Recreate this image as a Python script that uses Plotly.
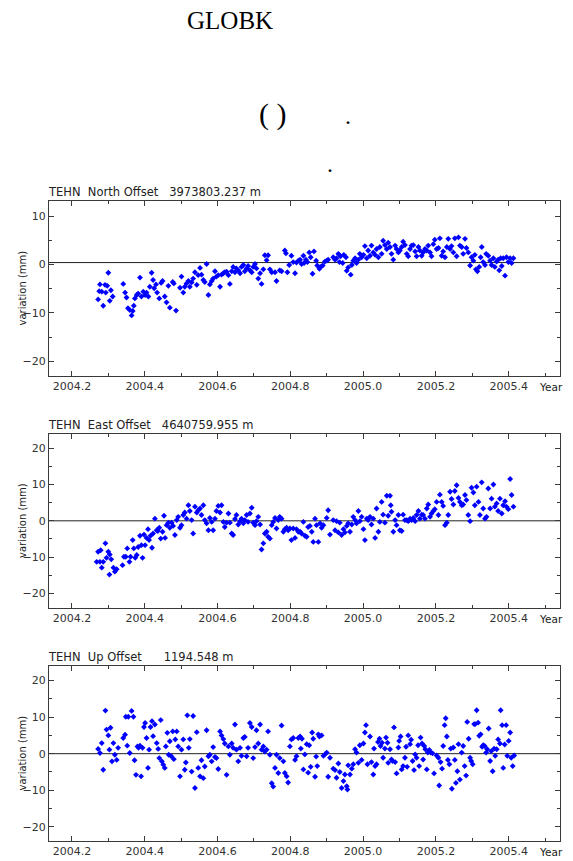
import plotly.graph_objects as go

# ---------------- data (decimal year, variation in mm) ----------------
north_t = [2004.272,2004.277,2004.275,2004.282,2004.286,2004.291,2004.293,2004.297,2004.300,2004.304,2004.307,2004.312,
2004.341,2004.346,2004.350,2004.354,2004.359,2004.364,2004.367,2004.370,2004.373,2004.378,2004.382,2004.387,2004.391,
2004.396,2004.401,2004.405,2004.410,2004.414,2004.419,2004.423,2004.426,2004.431,2004.434,2004.440,2004.445,2004.449,
2004.455,2004.460,2004.465,2004.469,2004.477,2004.480,2004.486,2004.497,2004.501,2004.506,2004.510,2004.515,2004.520,
2004.524,2004.529,2004.533,2004.538,2004.543,2004.547,2004.552,2004.556,2004.561,2004.565,2004.570,2004.575,2004.579,
2004.584,2004.588,2004.593,2004.597,2004.602,2004.607,2004.611,2004.616,2004.620,2004.625,2004.630,2004.634,2004.639,
2004.643,2004.648,2004.652,2004.657,2004.662,2004.666,2004.671,2004.675,2004.680,2004.684,2004.689,2004.694,2004.698,
2004.703,2004.707,2004.712,2004.717,2004.721,2004.726,2004.730,2004.735,2004.739,2004.744,2004.749,2004.758,2004.762,
2004.771,2004.776,2004.785,2004.788,2004.792,2004.797,2004.803,2004.808,2004.813,2004.817,2004.822,
2004.827,2004.831,2004.836,2004.838,2004.843,2004.847,2004.852,2004.856,2004.861,2004.865,2004.871,2004.874,2004.880,
2004.883,2004.889,2004.895,2004.900,2004.904,2004.918,2004.923,2004.927,2004.932,2004.935,2004.938,2004.944,2004.947,
2004.953,2004.955,2004.959,2004.966,2004.969,2004.973,2004.978,2004.982,2004.987,2004.991,2004.996,2005.001,2005.005,
2005.010,2005.014,2005.019,2005.023,2005.028,2005.033,2005.037,2005.042,2005.046,2005.051,2005.055,2005.060,2005.065,
2005.069,2005.074,2005.078,2005.083,2005.088,2005.092,2005.097,2005.101,2005.106,2005.110,2005.115,2005.120,2005.124,
2005.129,2005.133,2005.138,2005.143,2005.147,2005.152,2005.156,2005.161,2005.165,2005.170,2005.175,2005.179,2005.184,
2005.188,2005.193,2005.197,2005.202,2005.207,2005.211,2005.216,2005.220,2005.225,2005.230,2005.234,2005.239,2005.243,
2005.248,2005.252,2005.257,2005.262,2005.266,2005.271,2005.275,2005.280,2005.284,2005.289,2005.294,2005.298,2005.303,
2005.307,2005.310,2005.314,2005.319,2005.323,2005.326,2005.330,2005.335,2005.338,2005.344,2005.349,2005.353,2005.358,
2005.362,2005.367,2005.371,2005.374,2005.378,2005.381,2005.385,2005.390,2005.394,2005.399,2005.404,2005.408,2005.413]
north_v = [-7.2,-4.1,-5.5,-5.6,-8.5,-4.2,-5.8,-4.4,-1.7,-7.5,-5.3,-6.6,
-4.0,-5.8,-6.8,-9.0,-9.4,-10.5,-9.6,-8.5,-7.0,-6.3,-6.0,-2.7,-6.6,
-5.6,-6.3,-5.8,-6.6,-4.6,-1.7,-3.2,-4.9,-4.1,-5.8,-7.0,-3.8,-3.4,
-6.6,-7.8,-4.4,-8.9,-3.6,-3.9,-9.5,-4.8,-2.5,-5.8,-4.6,-3.9,-3.4,
-4.6,-3.7,-2.9,-1.6,-4.2,-2.2,-0.7,-2.1,-3.2,-3.6,0.1,-6.3,-4.1,
-3.4,-2.9,-1.4,-2.5,-2.2,-4.6,-2.1,-1.8,-1.6,-1.5,-2.2,-4.0,-1.4,
-0.5,-1.6,-0.8,-1.2,-1.8,-0.5,-0.1,-1.4,-0.8,-0.3,-1.2,-1.6,-0.5,
0.1,-0.8,-2.9,-1.8,-4.0,-1.0,1.9,0.9,1.9,-1.0,-1.6,-1.6,-3.4,
-1.2,-1.4,2.9,2.3,-1.6,-0.1,1.8,0.5,-1.8,0.4,0.8,
1.0,0.1,1.8,0.3,1.0,0.5,2.5,1.5,-1.9,2.7,0.8,-0.2,-0.9,
-0.5,-0.2,0.6,0.8,1.0,1.5,1.0,1.3,2.2,0.5,1.7,0.3,2.0,
1.5,-1.3,-0.6,-2.1,-0.1,0.8,1.3,0.3,1.0,2.2,1.5,2.0,3.8,
1.3,2.9,1.8,3.9,2.5,2.0,3.2,1.5,3.6,2.2,4.9,4.0,3.2,
4.5,3.6,2.2,1.0,3.9,3.2,2.5,2.9,3.6,4.7,4.0,2.2,1.7,
3.2,3.9,4.0,2.7,1.7,3.6,2.9,1.8,2.5,3.2,2.9,3.9,2.5,
1.7,4.2,5.1,3.2,3.4,5.4,1.8,2.7,1.5,3.6,5.3,3.2,3.8,
2.5,5.4,1.7,5.6,3.9,3.6,2.2,5.3,3.4,2.5,-0.2,1.5,0.8,
2.0,-1.0,-1.4,-0.5,1.5,3.6,0.5,-0.1,2.2,1.8,0.8,-0.1,1.3,
-0.5,0.6,1.0,-1.2,1.3,-0.3,1.3,-2.3,1.5,0.5,1.3,0.3,1.3]

east_t = [2004.268,2004.272,2004.277,2004.279,2004.282,2004.286,2004.292,2004.295,2004.300,2004.303,2004.304,2004.308,
2004.314,2004.318,2004.323,2004.339,2004.343,2004.348,2004.352,2004.358,2004.361,2004.367,2004.370,2004.374,2004.378,
2004.382,2004.387,2004.391,2004.394,2004.398,2004.401,2004.405,2004.409,2004.412,2004.416,2004.420,2004.423,2004.428,
2004.433,2004.436,2004.440,2004.444,2004.449,2004.453,2004.456,2004.460,2004.465,2004.469,2004.474,2004.478,2004.483,
2004.488,2004.492,2004.497,2004.501,2004.506,2004.510,2004.515,2004.520,2004.524,2004.529,2004.533,2004.538,2004.543,
2004.547,2004.552,2004.556,2004.561,2004.565,2004.570,2004.575,2004.579,2004.584,2004.588,2004.593,2004.597,2004.602,
2004.607,2004.611,2004.616,2004.620,2004.625,2004.630,2004.634,2004.639,2004.643,2004.648,2004.652,2004.657,2004.662,
2004.666,2004.671,2004.675,2004.680,2004.684,2004.689,2004.694,2004.698,2004.703,2004.707,2004.712,2004.717,2004.721,
2004.726,2004.730,2004.735,2004.739,2004.744,2004.749,2004.753,2004.758,2004.762,2004.767,2004.771,2004.776,2004.781,
2004.785,2004.790,2004.794,2004.799,2004.803,2004.808,2004.813,2004.817,2004.822,
2004.827,2004.831,2004.836,2004.840,2004.845,2004.849,2004.854,2004.859,2004.863,2004.868,2004.872,2004.877,2004.882,
2004.886,2004.891,2004.900,2004.904,2004.909,2004.918,2004.923,2004.927,2004.932,2004.936,2004.941,2004.946,2004.950,
2004.955,2004.959,2004.964,2004.969,2004.973,2004.978,2004.982,2004.987,2004.991,2004.996,2005.001,2005.005,2005.010,
2005.014,2005.019,2005.023,2005.028,2005.033,2005.037,2005.042,2005.046,2005.051,2005.055,2005.060,2005.065,2005.069,
2005.074,2005.076,2005.078,2005.083,2005.088,2005.092,2005.097,2005.101,2005.106,2005.110,2005.115,2005.120,2005.124,
2005.129,2005.133,2005.138,2005.143,2005.147,2005.152,2005.156,2005.161,2005.165,2005.170,2005.175,2005.179,2005.184,
2005.188,2005.193,2005.197,2005.202,2005.207,2005.211,2005.216,2005.220,2005.225,2005.230,2005.234,2005.239,2005.243,
2005.248,2005.252,2005.257,2005.262,2005.266,2005.271,2005.275,2005.280,2005.284,2005.289,2005.294,2005.298,2005.303,
2005.307,2005.312,2005.317,2005.321,2005.326,2005.330,2005.335,2005.339,2005.344,2005.349,2005.353,2005.358,2005.362,
2005.367,2005.371,2005.376,2005.381,2005.385,2005.390,2005.394,2005.399,2005.404,2005.408,2005.413]
east_v = [-11.3,-8.5,-11.3,-8.1,-12.9,-11.3,-6.2,-10.2,-8.5,-14.8,-9.3,-10.6,
-12.9,-14.0,-13.3,-12.2,-9.9,-9.9,-7.6,-11.3,-9.9,-5.3,-7.6,-10.2,-9.4,
-7.2,-4.1,-6.7,-10.2,-3.8,-6.7,-4.7,-2.3,-5.3,-4.1,-7.4,-3.5,0.6,
-2.6,-2.8,-1.9,-4.9,-3.0,1.4,-4.7,-1.2,-0.5,-1.9,-0.5,-1.4,-3.9,
0.2,1.1,-1.9,-1.2,1.6,2.3,0.6,4.3,2.7,0.2,-3.5,3.9,2.3,
2.9,3.4,1.6,4.3,0.2,-0.7,-2.6,0.8,-0.3,-2.6,0.6,2.7,4.1,
2.3,4.3,-0.3,-1.7,-0.5,2.0,-0.5,-3.5,-3.9,0.5,1.6,-1.0,-0.1,
0.6,-0.7,0.2,1.6,-0.3,2.0,3.6,-0.5,-1.2,-0.1,1.1,-1.0,-7.9,
-6.2,-3.5,-3.0,-4.4,-4.9,-1.2,-0.3,0.8,-2.1,0.2,1.1,0.6,-3.0,
-2.3,-1.9,-2.6,-2.1,-5.3,-2.1,-4.7,-2.3,-3.0,
-3.0,-3.5,-0.3,-4.1,-4.4,-1.7,-1.4,-3.0,-5.8,0.6,-1.2,-5.8,-0.7,
-1.9,-1.2,0.8,2.9,-3.8,0.2,-2.6,-0.1,-3.2,-0.5,-3.9,-2.3,-3.2,
-1.4,-0.7,-3.0,-1.0,1.1,0.2,-0.7,2.7,-0.1,1.1,-2.3,-5.3,0.6,
0.2,1.1,-1.0,0.6,-4.7,3.4,-3.0,-0.3,5.2,1.7,-0.5,6.9,1.4,
6.9,4.3,2.5,-3.0,0.2,-1.2,1.6,-2.6,-2.8,1.7,0.2,0.2,-0.1,
0.6,0.2,0.8,-0.1,1.6,2.7,0.6,1.7,1.6,0.6,3.4,4.5,1.1,
2.0,2.7,3.2,5.2,1.6,7.2,5.2,4.1,-1.2,-0.5,1.6,8.0,6.0,
4.5,8.2,9.8,6.3,5.2,4.3,4.5,7.1,5.7,1.6,-0.1,9.1,7.8,
4.3,9.4,5.2,1.6,10.6,3.4,0.6,1.1,8.9,3.4,6.1,10.0,3.9,
4.8,2.7,6.1,2.0,4.3,5.4,3.9,3.2,11.5,7.1,3.9]

up_t = [2004.272,2004.277,2004.282,2004.286,2004.292,2004.295,2004.300,2004.303,2004.306,2004.310,2004.314,2004.318,
2004.323,2004.327,2004.341,2004.346,2004.348,2004.352,2004.355,2004.359,2004.364,2004.369,2004.372,2004.376,2004.380,
2004.383,2004.387,2004.390,2004.394,2004.398,2004.401,2004.405,2004.409,2004.412,2004.416,2004.420,2004.423,2004.428,
2004.433,2004.437,2004.440,2004.444,2004.447,2004.451,2004.455,2004.458,2004.462,2004.466,2004.469,2004.473,2004.477,
2004.480,2004.484,2004.488,2004.492,2004.497,2004.501,2004.506,2004.510,2004.513,2004.517,2004.521,2004.524,2004.529,
2004.533,2004.538,2004.543,2004.547,2004.552,2004.556,2004.561,2004.565,2004.570,2004.575,2004.579,2004.584,2004.588,
2004.593,2004.597,2004.602,2004.607,2004.611,2004.616,2004.620,2004.625,2004.630,2004.634,2004.639,2004.643,2004.648,
2004.652,2004.657,2004.662,2004.666,2004.671,2004.675,2004.680,2004.684,2004.689,2004.694,2004.698,2004.703,2004.707,
2004.712,2004.717,2004.721,2004.726,2004.730,2004.735,2004.739,2004.744,2004.749,2004.753,2004.758,2004.762,2004.767,
2004.771,2004.776,2004.781,2004.785,2004.790,2004.794,2004.799,2004.803,2004.808,2004.813,2004.817,2004.822,
2004.827,2004.829,2004.832,2004.836,2004.840,2004.845,2004.849,2004.852,2004.856,2004.860,2004.863,2004.868,2004.871,
2004.874,2004.877,2004.880,2004.886,2004.891,2004.895,2004.900,2004.904,2004.909,2004.918,2004.923,2004.927,2004.932,
2004.936,2004.941,2004.946,2004.950,2004.955,2004.957,2004.959,2004.964,2004.969,2004.973,2004.978,2004.982,2004.987,
2004.991,2004.996,2005.001,2005.005,2005.008,2005.012,2005.019,2005.023,2005.028,2005.030,2005.033,2005.037,2005.041,
2005.045,2005.048,2005.052,2005.055,2005.060,2005.063,2005.067,2005.069,2005.074,2005.078,2005.081,2005.085,2005.088,
2005.092,2005.097,2005.099,2005.103,2005.106,2005.110,2005.115,2005.118,2005.121,2005.124,2005.129,2005.132,2005.136,
2005.140,2005.143,2005.147,2005.151,2005.154,2005.158,2005.162,2005.165,2005.168,2005.171,2005.175,2005.178,2005.182,
2005.186,2005.191,2005.195,2005.202,2005.207,2005.209,2005.213,2005.217,2005.220,2005.224,2005.227,2005.230,2005.233,
2005.237,2005.241,2005.244,2005.248,2005.252,2005.255,2005.259,2005.262,2005.266,2005.271,2005.275,2005.279,2005.283,
2005.286,2005.290,2005.294,2005.297,2005.301,2005.305,2005.308,2005.312,2005.316,2005.319,2005.323,2005.327,2005.330,
2005.334,2005.338,2005.341,2005.345,2005.349,2005.352,2005.356,2005.360,2005.363,2005.367,2005.371,2005.376,2005.378,
2005.382,2005.385,2005.389,2005.393,2005.396,2005.400,2005.404,2005.407,2005.411,2005.415]
up_v = [1.3,0.2,2.9,-4.4,11.8,6.6,5.0,1.1,7.1,-2.1,2.9,-0.3,
-1.7,1.6,4.3,5.2,10.1,2.2,10.1,0.2,11.7,10.1,-1.8,-5.8,2.0,
1.6,2.2,-6.2,1.6,7.3,8.4,4.3,-3.9,1.1,7.3,8.9,4.8,8.0,
2.9,1.3,-1.2,9.2,-2.1,-3.0,-3.9,2.0,5.7,-0.3,3.4,-0.7,6.1,
-1.5,3.9,6.1,2.0,-6.2,1.1,3.9,-4.4,-2.4,10.5,1.6,4.0,-4.9,
10.3,-9.4,5.9,-3.9,-6.2,-1.8,-6.7,-3.5,6.4,-0.7,-0.3,-2.1,1.8,
-0.9,-1.2,-4.2,6.1,5.0,4.0,2.8,-5.8,2.0,-0.3,2.8,1.6,8.0,
1.1,-2.1,1.6,-0.6,4.3,4.6,-0.7,1.6,8.4,7.3,-1.2,1.8,6.4,
2.8,8.0,1.1,2.0,0.6,1.1,6.1,-0.3,-8.1,-9.0,-3.9,-0.3,-5.3,
-1.2,7.7,-2.1,-5.3,-6.2,-7.9,2.0,3.9,4.3,-1.7,-0.7,4.3,
4.7,1.4,4.1,-4.3,-0.2,2.6,-5.2,2.3,-3.6,5.8,4.1,-6.3,-0.8,
-3.4,5.3,4.7,5.0,-0.6,-0.2,0.3,-6.3,-1.1,-4.1,-4.5,-6.6,-2.7,
-5.0,-9.4,-7.5,-5.7,-8.9,-9.8,-3.2,-5.7,-4.1,-2.9,1.2,0.3,-2.5,
2.3,-1.7,2.8,5.8,7.8,-2.9,4.7,-2.3,-5.7,1.4,-3.4,-2.9,3.2,
4.1,2.1,3.0,-1.1,1.4,4.4,3.0,-2.5,1.2,-1.6,-2.0,7.2,-2.3,
-5.4,1.7,3.5,4.7,-4.3,-3.4,-1.1,1.9,-3.6,5.0,2.6,3.8,-2.0,
-4.5,-0.2,-1.1,2.3,-3.4,4.4,2.8,-1.6,2.1,1.2,-4.3,0.3,1.0,
0.3,0.1,-5.4,-0.5,-1.1,-8.7,-2.3,-4.1,2.1,7.8,9.7,4.7,-1.7,
-2.9,1.4,-9.6,1.7,-1.7,-8.0,-4.8,2.6,-7.1,0.3,2.1,-3.4,-6.0,
8.7,4.1,-1.1,-2.0,-2.9,8.1,8.1,11.9,8.5,4.9,5.3,1.9,2.3,
2.1,0.3,1.2,6.9,-2.0,0.7,-4.8,1.4,-0.6,1.2,3.9,2.8,11.9,
7.8,-3.9,2.5,7.8,-0.6,3.5,5.8,-1.1,-3.4,-0.5]

panel_titles = ["TEHN  North Offset   3973803.237 m",
                "TEHN  East Offset   4640759.955 m",
                "TEHN  Up Offset      1194.548 m"]
ref_levels = [0.4, 0.0, 0.0]
y_ranges = [[-23, 13.1], [-24, 23.9], [-23.9, 24]]
x_range = [2004.137, 2005.541]

W, H = 573, 861
# panel boxes in pixels: (left, top, right, bottom)
boxes = [(49, 201, 560, 376), (49, 434, 560, 608), (49, 666, 560, 841)]

def px(x):
    return x / W

def py(y):
    return 1 - y / H

fig = go.Figure()
series = [(north_t, north_v), (east_t, east_v), (up_t, up_v)]
axis_col = "#3a3a3a"
sans = "DejaVu Sans, Verdana, sans-serif"
tick_font = dict(family=sans, size=11, color="#333333")

for i, (t, v) in enumerate(series):
    n = "" if i == 0 else str(i + 1)
    fig.add_trace(go.Scatter(
        x=t, y=v, mode="markers", xaxis="x" + n, yaxis="y" + n,
        marker=dict(symbol="diamond", size=4.5, color="#0000ff", line=dict(width=0)),
        showlegend=False, hoverinfo="x+y"))
    l, tp, r, b = boxes[i]
    fig.layout["xaxis" + n] = dict(
        domain=[px(l), px(r)], anchor="y" + n, range=x_range,
        tickmode="linear", tick0=2004.2, dtick=0.2, tickformat=".1f",
        ticks="inside", ticklen=5, tickcolor=axis_col, mirror="ticks",
        showline=True, linecolor=axis_col, linewidth=1,
        showgrid=False, zeroline=False, tickfont=tick_font,
        minor=dict(dtick=0.1, tick0=2004.1, ticks="inside", ticklen=3, tickcolor=axis_col, showgrid=False),
        fixedrange=True)
    fig.layout["yaxis" + n] = dict(
        domain=[py(b), py(tp)], anchor="x" + n, range=y_ranges[i],
        tickmode="linear", tick0=0, dtick=10,
        ticks="inside", ticklen=5, tickcolor=axis_col, mirror="ticks",
        showline=True, linecolor=axis_col, linewidth=1,
        showgrid=False, zeroline=False, tickfont=tick_font,
        minor=dict(dtick=5, tick0=0, ticks="inside", ticklen=3, tickcolor=axis_col, showgrid=False),
        fixedrange=True)
    # reference line
    fig.add_shape(type="line", xref="x" + n + " domain", x0=0, x1=1,
                  yref="y" + n, y0=ref_levels[i], y1=ref_levels[i],
                  line=dict(color="#222222", width=1), layer="below")
    # panel title
    fig.add_annotation(text=panel_titles[i], xref="paper", yref="paper",
                       x=px(46), y=py(tp - 9), xanchor="left", yanchor="middle",
                       showarrow=False, font=dict(family=sans, size=11.5, color="#222222"))
    # y-axis label
    fig.add_annotation(text="variation (mm)", xref="paper", yref="paper",
                       x=px(22), y=py((tp + b) / 2), xanchor="center", yanchor="middle",
                       textangle=-90, showarrow=False,
                       font=dict(family=sans, size=10, color="#222222"))
    # Year label
    fig.add_annotation(text="Year", xref="paper", yref="paper",
                       x=px(551), y=py(b + 11), xanchor="center", yanchor="middle",
                       showarrow=False, font=dict(family=sans, size=10.5, color="#222222"))

serif = "Liberation Serif, Times New Roman, serif"
fig.add_annotation(text="GLOBK", xref="paper", yref="paper", x=px(230), y=py(20),
                   xanchor="center", yanchor="middle", showarrow=False,
                   font=dict(family=serif, size=25, color="black"))
fig.add_annotation(text="( )", xref="paper", yref="paper", x=px(272), y=py(114),
                   xanchor="center", yanchor="middle", showarrow=False,
                   font=dict(family=serif, size=30, color="black"))
fig.add_annotation(text=".", xref="paper", yref="paper", x=px(348), y=py(116),
                   xanchor="center", yanchor="middle", showarrow=False,
                   font=dict(family=serif, size=24, color="black"))
fig.add_annotation(text=".", xref="paper", yref="paper", x=px(330), y=py(164),
                   xanchor="center", yanchor="middle", showarrow=False,
                   font=dict(family=serif, size=24, color="black"))

fig.update_layout(width=W, height=H, margin=dict(l=0, r=0, t=0, b=0),
                  paper_bgcolor="white", plot_bgcolor="white")

fig.write_html("out.html", config={"displayModeBar": False},
               post_script="document.body.style.margin='0';document.body.style.padding='0';document.body.style.overflow='hidden';")
